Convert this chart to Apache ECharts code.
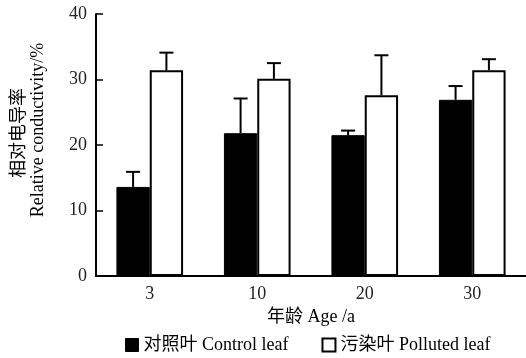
<!DOCTYPE html>
<html>
<head>
<meta charset="utf-8">
<script src="https://cdn.jsdelivr.net/npm/echarts@6/dist/echarts.min.js"></script>
<style>
  html, body { margin: 0; padding: 0; background: #fff; }
  #chart { width: 526px; height: 358px; }
</style>
</head>
<body>
<div id="chart"></div>
<script>
const categories = ['3', '10', '20', '30']
const controlValues = [13.6, 21.8, 21.5, 26.9]
const controlErrTop = [15.9, 27.1, 22.2, 29.0]
const pollutedValues = [31.4, 30.1, 27.6, 31.4]
const pollutedErrTop = [34.1, 32.5, 33.7, 33.1]
const yTicks = [0, 10, 20, 30, 40]

const FONT = '"Liberation Serif", "Noto Sans CJK SC", serif'
const BAR_W = 0.31

const chart = echarts.init(document.getElementById('chart'))

// error bar drawn on top of each bar
const errorItem = (side) => (params, api) => {
  const cat = api.value(0)
  const base = api.coord([cat, api.value(1)])
  const top = api.coord([cat, api.value(2)])
  const band = api.size([1, 0])[0]
  const x = base[0] + side * band * BAR_W / 2
  return {
    type: 'group',
    children: [
      { type: 'line', shape: { x1: x, y1: base[1], x2: x, y2: top[1] }, style: { stroke: '#000', lineWidth: 2 } },
      { type: 'line', shape: { x1: x - 7, y1: top[1], x2: x + 7, y2: top[1] }, style: { stroke: '#000', lineWidth: 2 } }
    ]
  }
}

const option = {
  animation: false,
  textStyle: { fontFamily: FONT },
  grid: { left: 96, right: 0, top: 14, bottom: 82, containLabel: false, outerBoundsMode: 'none' },
  graphic: [
    {
      type: 'text', x: 19, y: 133, rotation: Math.PI / 2,
      style: { text: '相对电导率', fontFamily: FONT, fontSize: 18, fill: '#000', align: 'center', verticalAlign: 'middle' }
    },
    {
      type: 'text', x: 38, y: 130, rotation: Math.PI / 2,
      style: { text: 'Relative conductivity/%', fontFamily: FONT, fontSize: 18, fill: '#000', align: 'center', verticalAlign: 'middle' }
    }
  ],
  legend: {
    top: 331,
    left: 120,
    itemWidth: 13,
    itemHeight: 13,
    itemGap: 33,
    textStyle: { fontFamily: FONT, fontSize: 18, color: '#000' },
    data: [
      { name: '对照叶 Control leaf', icon: 'rect', itemStyle: { color: '#000', borderColor: '#000', borderWidth: 1 } },
      { name: '污染叶 Polluted leaf', icon: 'rect', itemStyle: { color: '#fff', borderColor: '#000', borderWidth: 2 } }
    ]
  },
  xAxis: {
    type: 'category',
    data: categories,
    name: '年龄 Age /a',
    nameLocation: 'middle',
    nameGap: 31,
    nameTextStyle: { fontFamily: FONT, fontSize: 18, color: '#000' },
    axisLine: { lineStyle: { color: '#000', width: 2 } },
    axisTick: { inside: true, length: 7, lineStyle: { color: '#000', width: 1.5 } },
    axisLabel: { fontFamily: FONT, fontSize: 18, color: '#222', margin: 9 }
  },
  yAxis: {
    type: 'value',
    min: 0,
    max: 40,
    interval: 10,
    axisLine: { show: true, lineStyle: { color: '#000', width: 2 } },
    axisTick: { show: true, inside: true, length: 7, lineStyle: { color: '#000', width: 1.5 } },
    axisLabel: { fontFamily: FONT, fontSize: 18, color: '#222', margin: 9,
      formatter: (v) => yTicks.includes(v) ? String(v) : '' },
    splitLine: { show: false }
  },
  series: [
    {
      name: '对照叶 Control leaf',
      type: 'bar',
      data: controlValues,
      barWidth: (BAR_W * 100) + '%',
      barGap: '0%',
      itemStyle: { color: '#000', borderColor: '#000', borderWidth: 1 }
    },
    {
      name: '污染叶 Polluted leaf',
      type: 'bar',
      data: pollutedValues,
      barWidth: (BAR_W * 100) + '%',
      barGap: '0%',
      itemStyle: { color: '#fff', borderColor: '#000', borderWidth: 2 }
    },
    {
      type: 'custom',
      renderItem: errorItem(-1),
      data: categories.map((c, i) => [i, controlValues[i], controlErrTop[i]]),
      z: 5
    },
    {
      type: 'custom',
      renderItem: errorItem(1),
      data: categories.map((c, i) => [i, pollutedValues[i], pollutedErrTop[i]]),
      z: 5
    }
  ]
}

chart.setOption(option)
</script>
</body>
</html>
